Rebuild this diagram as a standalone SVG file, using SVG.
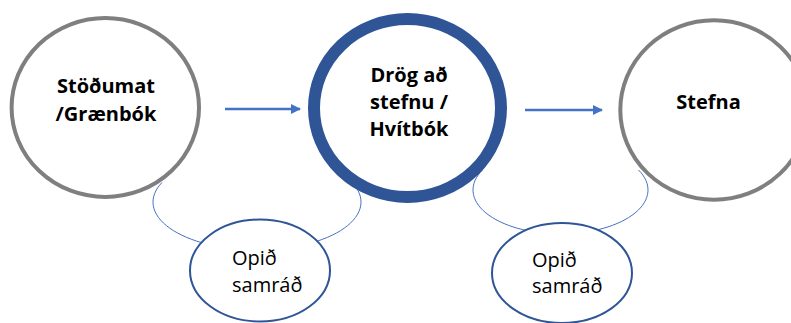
<svg xmlns="http://www.w3.org/2000/svg" width="791" height="323" viewBox="0 0 791 323">
<defs>
<style>
.gray{fill:#fff;stroke:#7f7f7f;stroke-width:4}
.main{fill:#fff;stroke:#2f5597;stroke-width:12}
.small{fill:#fff;stroke:#2f5597;stroke-width:2}
.arc{fill:none;stroke:#4472c4;stroke-width:1}
.flow{fill:none;stroke:#4472c4;stroke-width:2.5}
.b{font-family:"Open Sans","Noto Sans","Liberation Sans",sans-serif;font-weight:bold;font-size:20px;fill:#000;text-anchor:middle}
.n{font-family:"Open Sans","Noto Sans","Liberation Sans",sans-serif;font-size:20px;fill:#000}
</style>
<marker id="ah" viewBox="0 0 10 10" refX="9" refY="5" markerWidth="4" markerHeight="4" orient="auto" markerUnits="strokeWidth">
<path d="M0,0 L10,5 L0,10 z" fill="#4472c4"/>
</marker>
</defs>
<rect width="791" height="323" fill="#fff"/>
<g id="connectors">
<path class="arc" d="M162,182.5 A104,48 0 1 0 352,182.5"/>
<path class="arc" d="M482.5,170 A87.5,44 0 1 0 638.5,170"/>
<path class="flow" d="M225,109 L300,109" marker-end="url(#ah)"/>
<path class="flow" d="M525,110 L602,110" marker-end="url(#ah)"/>
</g>
<g id="node-stodumat">
<ellipse class="gray" cx="105.3" cy="107.5" rx="93.7" ry="89.5"/>
<text class="b" x="106" y="93">Stöðumat</text>
<text class="b" x="106" y="121">/Grænbók</text>
</g>
<g id="node-drog">
<ellipse class="main" cx="407.5" cy="108" rx="93.5" ry="89"/>
<text class="b" x="409" y="82">Drög að</text>
<text class="b" x="409" y="109">stefnu /</text>
<text class="b" x="409" y="136">Hvítbók</text>
</g>
<g id="node-stefna">
<ellipse class="gray" cx="714" cy="110" rx="93.7" ry="89.7"/>
<text class="b" x="708.5" y="109">Stefna</text>
</g>
<g id="node-samrad1">
<ellipse class="small" cx="260" cy="270.5" rx="70" ry="51"/>
<text class="n" x="232" y="265">Opið</text>
<text class="n" x="232" y="292">samráð</text>
</g>
<g id="node-samrad2">
<ellipse class="small" cx="562" cy="273" rx="70" ry="50"/>
<text class="n" x="532" y="267">Opið</text>
<text class="n" x="532" y="293">samráð</text>
</g>
</svg>
